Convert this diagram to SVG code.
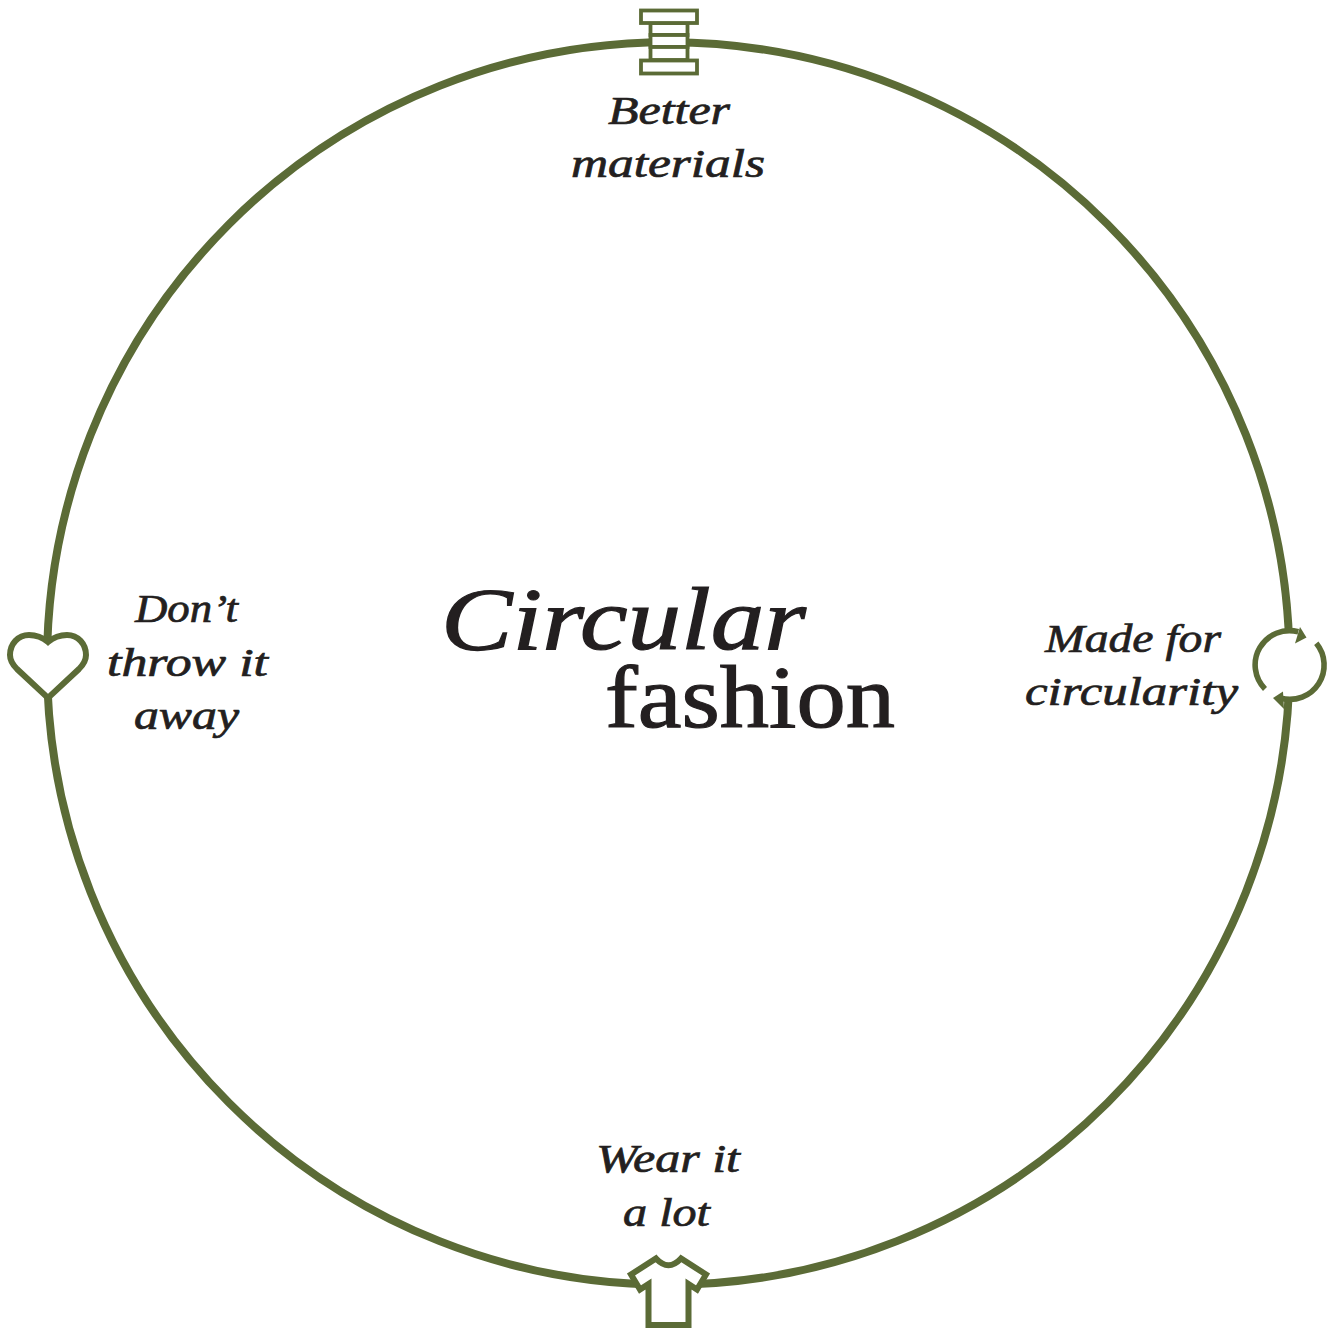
<svg xmlns="http://www.w3.org/2000/svg" width="1333" height="1330" viewBox="0 0 1333 1330">
<style>
.ring{fill:none;stroke:#5b6b36;stroke-width:8}
.ic{fill:#fff;stroke:#5b6b36;stroke-width:6;stroke-linejoin:miter}
.sp{fill:#fff;stroke:#5b6b36;stroke-width:3.8}
.ln{fill:none;stroke:#5b6b36;stroke-width:5.6}
.ah{fill:#5b6b36;stroke:none}
text{font-family:"Liberation Serif",serif;fill:#231f20}
.l{font-style:italic;font-size:40px;stroke:#231f20;stroke-width:.7}
.t{font-size:88px;stroke:#231f20;stroke-width:1.2}
</style>
<rect width="1333" height="1330" fill="#fff"/>
<g id="connectors"><circle class="ring" cx="668.250" cy="663.500" r="621.250"/></g>
<g id="node-materials">
<rect class="sp" x="650.500" y="23" width="37" height="12"/><rect class="sp" x="650.500" y="35" width="37" height="12"/><rect class="sp" x="650.500" y="47" width="37" height="13"/>
<rect class="sp" x="641" y="10.500" width="56" height="12.500"/><rect class="sp" x="641" y="60.500" width="56" height="13"/>
<text class="l" x="608" y="124" textLength="122" lengthAdjust="spacingAndGlyphs">Better</text>
<text class="l" x="571" y="177" textLength="194" lengthAdjust="spacingAndGlyphs">materials</text>
</g>
<g id="node-circularity">
<circle cx="1289.700" cy="665" r="33" fill="#fff"/>
<path class="ln" d="M1265 689 A34.300 34.300 0 0 1 1298.300 631.800"/><path class="ah" d="M1300 627L1306.500 637.500L1295 643.500Z"/>
<path class="ln" d="M1316.300 643.300 A34.300 34.300 0 0 1 1280.900 698.200"/><path class="ah" d="M1283 691.500L1273 698L1284 709Z"/>
<text class="l" x="1045" y="652" textLength="176" lengthAdjust="spacingAndGlyphs">Made for</text>
<text class="l" x="1025" y="705" textLength="213" lengthAdjust="spacingAndGlyphs">circularity</text>
</g>
<g id="node-wear">
<path class="ic" d="M656 1258.500Q668.500 1272 681 1258.500L706 1274.500L697 1289.500L688.500 1284V1325H648.500V1284L640 1289.500L631 1274.500Z"/>
<text class="l" x="596" y="1172" textLength="144" lengthAdjust="spacingAndGlyphs">Wear it</text>
<text class="l" x="623" y="1226" textLength="87" lengthAdjust="spacingAndGlyphs">a lot</text>
</g>
<g id="node-away">
<path class="ic" d="M48 642C42 637 36 635 29 635C18 635 10 644 10 655C10 661 13 665 17 669L48 698L79 669C83 665 86 661 86 655C86 644 78 635 67 635C60 635 54 637 48 642Z"/>
<text class="l" x="135" y="622" textLength="103" lengthAdjust="spacingAndGlyphs">Don’<tspan dx="3">t</tspan></text>
<text class="l" x="107" y="676" textLength="161" lengthAdjust="spacingAndGlyphs">throw it</text>
<text class="l" x="134" y="729" textLength="105" lengthAdjust="spacingAndGlyphs">away</text>
</g>
<g id="title">
<text class="t" x="441" y="649" font-style="italic" textLength="365" lengthAdjust="spacingAndGlyphs">Circular</text>
<text class="t" x="605" y="727" textLength="290" lengthAdjust="spacingAndGlyphs">fashion</text>
</g>
</svg>
